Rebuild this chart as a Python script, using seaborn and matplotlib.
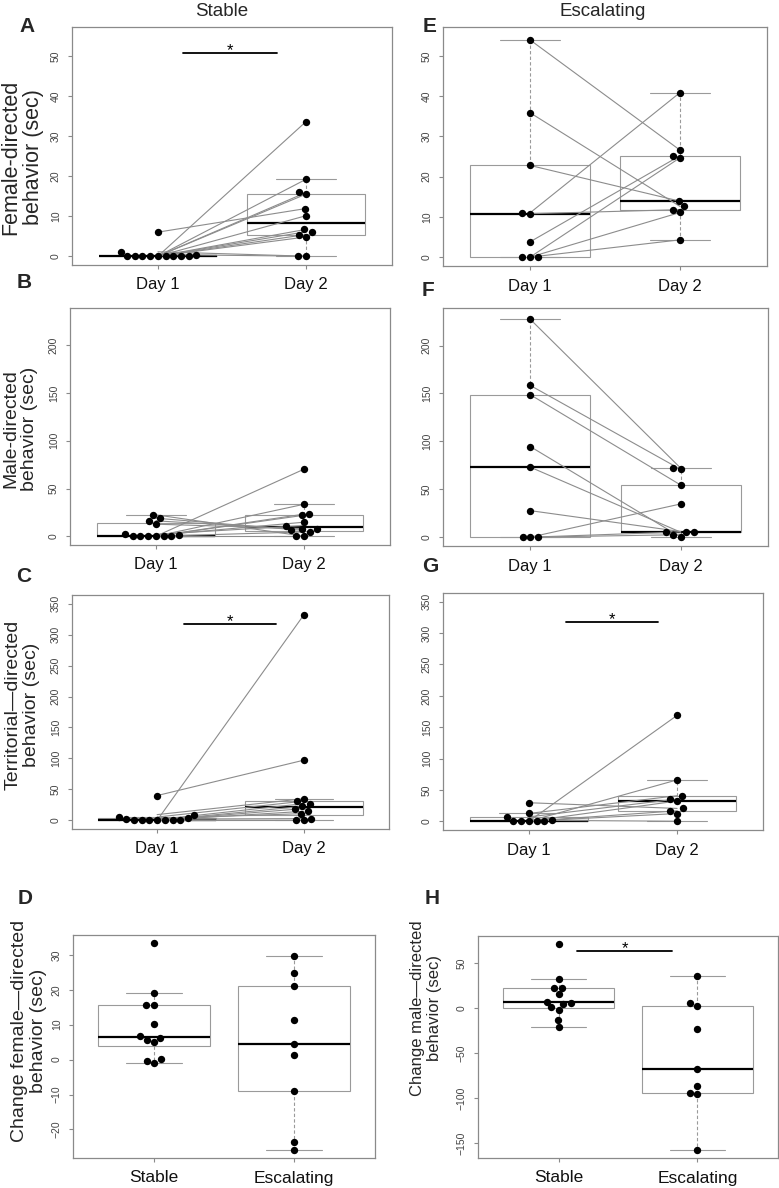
import numpy as np
import pandas as pd
import matplotlib
matplotlib.use("Agg")
import matplotlib.pyplot as plt
import seaborn as sns

# ---------------------------------------------------------------------------
# Data (seconds)
# ---------------------------------------------------------------------------
days = ["Day 1", "Day 2"]
groups = ["Stable", "Escalating"]

# Female-directed behaviour, paired by subject
female_stable_d1 = [0.0, 0.0, 0.0, 0.0, 0.0, 0.0, 6.0, 0.0, 0.0, 0.0, 0.4, 1.1]
female_stable_d2 = [33.6, 19.2, 15.9, 15.5, 10.1, 6.7, 11.9, 6.1, 5.4, 4.8, 0.0, 0.0]
female_escal_d1 = [54.0, 35.9, 22.8, 11.0, 10.8, 3.8, 0.0, 0.0, 0.0]
female_escal_d2 = [26.6, 12.6, 13.9, 40.9, 11.8, 25.2, 24.7, 11.1, 4.3]

# Male-directed behaviour
male_stable_d1 = [0.0, 0.0, 0.0, 22.4, 18.9, 16.1, 12.6, 2.0, 1.0, 0.0, 0.0, 0.0]
male_stable_d2 = [70.3, 33.5, 23.2, 0.0, 6.0, 7.3, 8.0, 11.2, 14.7, 22.0, 4.5, 0.0]
male_escal_d1 = [227.4, 158.4, 148.7, 94.6, 73.1, 27.7, 0.0, 0.0, 0.0]
male_escal_d2 = [72.0, 70.7, 54.4, 0.0, 5.2, 5.9, 34.7, 5.5, 2.6]

# Territorial-directed behaviour
terr_stable_d1 = [0.0, 40.0, 9.2, 5.3, 1.1, 0.0, 0.0, 0.0, 3.0, 2.0, 0.5, 0.0]
terr_stable_d2 = [332.0, 97.2, 35.0, 31.0, 27.0, 22.7, 19.0, 14.6, 10.9, 2.8, 0.0, 0.0]
terr_escal_d1 = [0.0, 0.0, 29.5, 12.4, 6.9, 0.0, 0.0, 0.0, 1.5]
terr_escal_d2 = [168.8, 65.9, 20.4, 40.7, 35.4, 32.2, 16.6, 12.3, 0.0]

# Change (Day 2 - Day 1)
change_female_stable = [33.3, 19.1, 15.7, 15.5, 10.1, 6.7, 6.2, 5.5, 5.0, 0.2, -0.4, -0.9]
change_female_escal = [29.6, 24.7, 21.2, 11.2, 4.5, 1.2, -8.9, -23.5, -25.8]
change_male_stable = [70.6, 32.0, 22.4, 21.8, 15.1, 7.0, 5.0, 4.0, 0.7, -2.6, -12.9, -21.0]
change_male_escal = [35.3, 5.5, 2.6, -23.2, -67.3, -87.1, -94.5, -95.6, -157.4]

# ---------------------------------------------------------------------------
# Style
# ---------------------------------------------------------------------------
sns.set_style("white")
plt.rcParams["font.family"] = ["Liberation Sans", "DejaVu Sans"]

BOX_GREY = "#9a9a9a"
LINE_GREY = "#8c8c8c"
SPINE_GREY = "#8a8a8a"

W, H = 779, 1188
fig = plt.figure(figsize=(W / 100, H / 100), dpi=100)


def px_axes(left, top, right, bottom):
    return fig.add_axes([left / W, 1 - bottom / H, (right - left) / W, (bottom - top) / H])


def style_axes(ax, ylim, yticks, xlabelsize=12):
    ax.set_xlim(-0.58, 1.58)
    ax.set_ylim(*ylim)
    ax.set_yticks(yticks)
    ax.set_xlabel("")
    ax.set_ylabel("")
    for sp in ax.spines.values():
        sp.set_color(SPINE_GREY)
        sp.set_linewidth(0.9)
        sp.set_visible(True)
    ax.tick_params(axis="both", color=SPINE_GREY, length=3, width=0.8, direction="out")
    ax.tick_params(axis="x", labelsize=xlabelsize, pad=6, labelcolor="#111111", bottom=True)
    ax.tick_params(axis="y", labelsize=7.5, pad=5, labelcolor="#444444", labelrotation=90, left=True)
    for lab in ax.get_yticklabels():
        lab.set_va("center")
    ax.grid(False)


def draw_boxes(ax, df, x, y):
    sns.boxplot(data=df, x=x, y=y, ax=ax, color="white", linecolor=BOX_GREY,
                linewidth=0.8, width=0.8, showfliers=False,
                whiskerprops={"linestyle": (0, (3, 2))},
                medianprops={"color": "black", "linewidth": 1.6})


def paired_panel(ax, d1, d2, ylim, yticks):
    n = len(d1)
    df = pd.DataFrame({
        "subject": list(range(n)) * 2,
        "day": [days[0]] * n + [days[1]] * n,
        "value": list(d1) + list(d2),
    })
    df["pos"] = df["day"].map({days[0]: 0, days[1]: 1})
    draw_boxes(ax, df, "day", "value")
    sns.lineplot(data=df, x="pos", y="value", units="subject", estimator=None,
                 color=LINE_GREY, linewidth=0.8, ax=ax, zorder=3, legend=False)
    sns.swarmplot(data=df, x="day", y="value", color="black", size=5.3,
                  linewidth=0, ax=ax, zorder=4)
    style_axes(ax, ylim, yticks)


def change_panel(ax, stable, escal, yticks):
    df = pd.DataFrame({
        "group": [groups[0]] * len(stable) + [groups[1]] * len(escal),
        "change": list(stable) + list(escal),
    })
    draw_boxes(ax, df, "group", "change")
    sns.swarmplot(data=df, x="group", y="change", color="black", size=5.3,
                  linewidth=0, ax=ax, zorder=4)
    lo, hi = df["change"].min(), df["change"].max()
    pad = 0.04 * (hi - lo)
    style_axes(ax, (lo - pad, hi + pad), yticks, xlabelsize=12.5)


def sig_bar(ax, x0, x1, y):
    ax.plot([x0, x1], [y, y], color="black", linewidth=1.3, zorder=5)
    ax.annotate("*", xy=((x0 + x1) / 2, y), xytext=(0, -1.5), textcoords="offset points",
                ha="center", va="baseline", fontsize=12, color="black")


# ---------------------------------------------------------------------------
# Panels
# ---------------------------------------------------------------------------
axA = px_axes(72, 27, 392, 265)
paired_panel(axA, female_stable_d1, female_stable_d2, (-2.2, 57.2), range(0, 51, 10))
sig_bar(axA, 0.17, 0.805, 50.8)

axE = px_axes(443, 27, 767, 266)
paired_panel(axE, female_escal_d1, female_escal_d2, (-2.2, 57.2), range(0, 51, 10))

axB = px_axes(70, 308, 390, 545)
paired_panel(axB, male_stable_d1, male_stable_d2, (-9.2, 239.2), range(0, 201, 50))

axF = px_axes(443, 308, 768, 546)
paired_panel(axF, male_escal_d1, male_escal_d2, (-9.2, 239.2), range(0, 201, 50))

axC = px_axes(72, 595, 389, 829)
paired_panel(axC, terr_stable_d1, terr_stable_d2, (-14, 364), range(0, 351, 50))
sig_bar(axC, 0.18, 0.81, 317.6)

axG = px_axes(443, 593, 763, 830)
paired_panel(axG, terr_escal_d1, terr_escal_d2, (-14, 364), range(0, 351, 50))
sig_bar(axG, 0.25, 0.87, 317.8)

axD = px_axes(73, 935, 375, 1158)
change_panel(axD, change_female_stable, change_female_escal, range(-20, 31, 10))

axH = px_axes(478, 936, 778, 1158)
change_panel(axH, change_male_stable, change_male_escal, range(-150, 51, 50))
sig_bar(axH, 0.13, 0.82, 62.9)

# ---------------------------------------------------------------------------
# Figure text
# ---------------------------------------------------------------------------
def ftext(x, y, s, **kw):
    fig.text(x / W, 1 - y / H, s, **kw)


ftext(222, 11, "Stable", ha="center", va="center", fontsize=13.5)
ftext(603, 11, "Escalating", ha="center", va="center", fontsize=13.5)

for letter, x, y in [("A", 27, 26), ("E", 430, 26), ("B", 24, 283), ("F", 428, 291),
                     ("C", 24, 576), ("G", 430, 567), ("D", 25, 898), ("H", 432, 899)]:
    ftext(x, y, letter, ha="center", va="center", fontsize=15, fontweight="bold")

# (text, x, y, fontsize) -- the panels were composited at slightly different scales
ylabels = [
    ("Female-directed\nbehavior (sec)", 22, 157, 15.5),
    ("Male-directed\nbehavior (sec)", 20, 429, 14),
    ("Territorial\u2014directed\nbehavior (sec)", 22, 705, 14),
    ("Change female\u2014directed\nbehavior (sec)", 29, 1031, 14),
    ("Change male\u2014directed\nbehavior (sec)", 426, 1008, 12),
]
for s, x, y, fs in ylabels:
    ftext(x, y, s, ha="center", va="center", rotation=90, fontsize=fs,
          multialignment="center", linespacing=1.1)

fig.savefig("out.png", dpi=100)
